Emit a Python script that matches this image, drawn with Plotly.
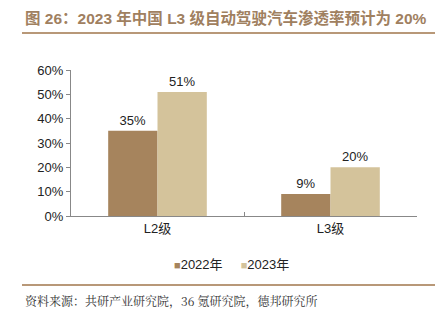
import plotly.graph_objects as go

categories = ["L2级", "L3级"]
series_names = ["2022年", "2023年"]
values_2022 = [35, 9]
values_2023 = [51, 20]
y_ticks = [0, 10, 20, 30, 40, 50, 60]
y_tick_labels = [f"{v}%" for v in y_ticks]

colors = ["#A6845D", "#D4C39B"]

W, H = 445, 328
L, R, T, B = 71, 28, 70, 112

fig = go.Figure()
for name, vals, c in zip(series_names, [values_2022, values_2023], colors):
    fig.add_trace(go.Bar(
        x=categories, y=vals, name=name, marker=dict(color=c, line=dict(width=0)),
        text=[f"{v}%" for v in vals], textposition="outside", cliponaxis=False,
        textfont=dict(family="Liberation Sans, Arial", size=13, color="#222"),
        showlegend=False,
    ))

fig.update_layout(
    width=W, height=H, margin=dict(l=L, r=R, t=T, b=B),
    paper_bgcolor="white", plot_bgcolor="white",
    barmode="group", bargap=0.43, bargroupgap=0,
    font=dict(family="Liberation Sans, Arial", size=13, color="#222"),
    xaxis=dict(showline=True, linecolor="#888", linewidth=1, ticks="inside",
               tickson="boundaries", ticklen=4, tickcolor="#888",
               tickfont=dict(size=13, family="Liberation Sans, Noto Sans CJK SC"),
               showgrid=False),
    yaxis=dict(range=[0, 60], tickvals=y_ticks, ticktext=y_tick_labels,
               showline=True, linecolor="#888", linewidth=1, ticks="outside",
               ticklen=4, tickcolor="#888", showgrid=False, zeroline=False,
               tickfont=dict(size=13)),
)

pw, ph = W - L - R, H - T - B
def px(x):
    return (x - L) / pw
def py(y):
    return (H - B - y) / ph

# legend drawn as text with coloured squares
legend_text = "&nbsp;&nbsp;&nbsp;&nbsp;&nbsp;".join(
    f'<span style="color:{c};font-size:11px">■</span>{n}' for n, c in zip(series_names, colors))
fig.add_annotation(xref="paper", yref="paper", x=px(231), y=py(264), xanchor="center", yanchor="middle",
                   showarrow=False, text=legend_text,
                   font=dict(size=13, color="#222", family="Liberation Sans, Noto Sans CJK SC"))

# title and decorative lines
fig.add_annotation(xref="paper", yref="paper", x=px(23), y=py(18),
                   xanchor="left", yanchor="middle", showarrow=False,
                   text="<b>图 26：2023 年中国 L3 级自动驾驶汽车渗透率预计为 20%</b>",
                   font=dict(size=15.5, color="#A0805F", family="Liberation Sans, Noto Sans CJK SC"))
fig.add_shape(type="line", xref="paper", yref="paper", x0=px(22), x1=px(435), y0=py(33), y1=py(33),
              line=dict(color="#B89878", width=2))
fig.add_shape(type="line", xref="paper", yref="paper", x0=px(22), x1=px(435), y0=py(285), y1=py(285),
              line=dict(color="#B89878", width=2))
fig.add_annotation(xref="paper", yref="paper", x=px(23), y=py(300), xanchor="left", yanchor="middle",
                   showarrow=False, text="资料来源：共研产业研究院，36 氪研究院，德邦研究所",
                   font=dict(size=12, color="#333", family="Noto Serif CJK SC, Noto Sans CJK SC"))

fig.write_html("out.html")
